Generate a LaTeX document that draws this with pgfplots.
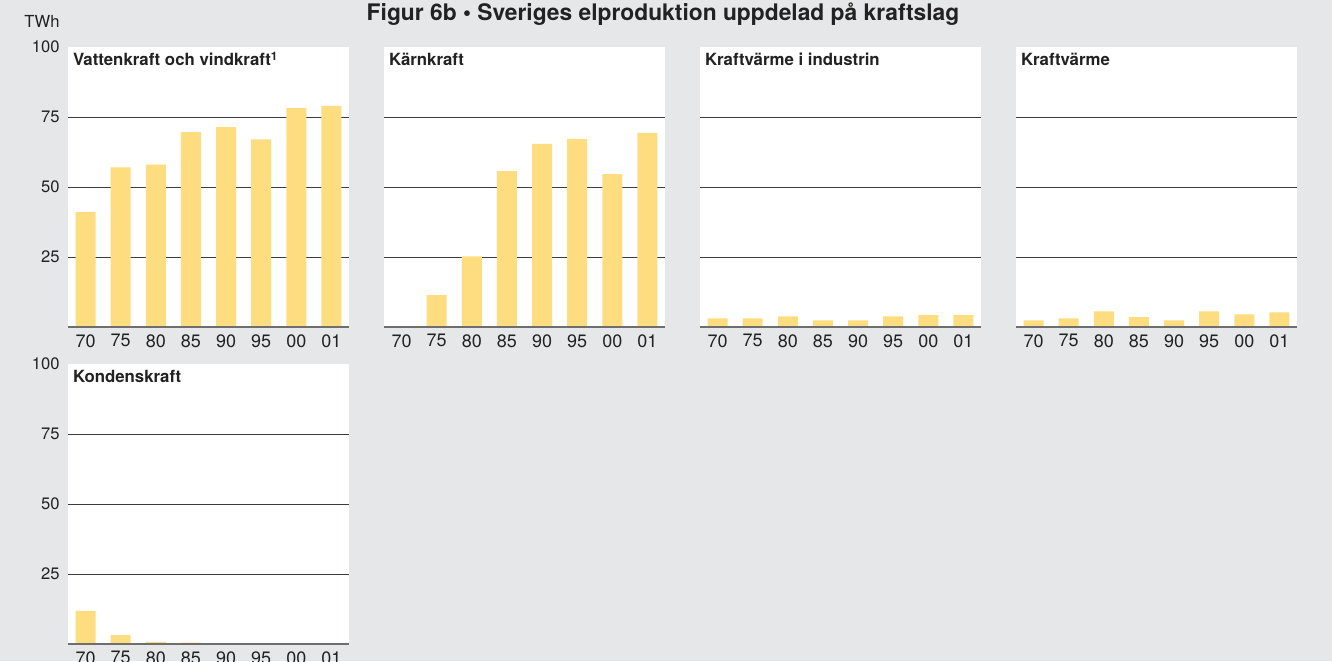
\documentclass[border=0pt]{standalone}
\usepackage{fontspec}
\setmainfont{TeX Gyre Heros}
\usepackage{pgfplots}
\pgfplotsset{compat=1.18}

\definecolor{bgcol}{HTML}{E6E7E9}
\definecolor{barcol}{HTML}{FEDC80}
\definecolor{gridcol}{HTML}{3C3C3C}
\definecolor{axcol}{HTML}{6E6E6E}
\definecolor{txtcol}{HTML}{222222}

% one panel = one axis, placed by its lower left corner (1px = 0.5pt)
\pgfplotsset{
  panel/.style={
    at={#1}, anchor=south west,
    scale only axis, width=140.5pt, height=140pt,
    xmin=-0.5, xmax=7.5, ymin=0, ymax=100,
    axis line style={draw=none},
    axis background/.style={fill=white},
    xtick={0,...,7}, xticklabels={70,75,80,85,90,95,00,01},
    ytick={25,50,75},
    ymajorgrids, grid style={gridcol, line width=0.5pt},
    major tick length=0pt,
    /pgf/number format/assume math mode=true,
    xticklabel style={inner sep=0pt, anchor=north, yshift=-3.5pt,
      text=txtcol, font=\fontsize{9}{10}\selectfont},
    yticklabel style={inner sep=0pt, anchor=east, xshift=-4pt,
      text=txtcol, font=\fontsize{8.3}{10}\selectfont},
    ybar, bar width=10pt, bar shift=0pt,
  },
  ylabs/.style={extra y ticks={100}, extra y tick style={grid=none}},
  nolabs/.style={yticklabels={,,}},
}
\newcommand{\ptitle}[1]{%
  \node[anchor=base west, inner sep=0pt, text=txtcol,
    font=\bfseries\fontsize{8.4}{10}\selectfont]
    at ([xshift=2.3pt, yshift=-9.35pt]rel axis cs:0,1) {#1};
  \draw[axcol, line width=0.75pt] (rel axis cs:0,0) -- (rel axis cs:1,0);}

\begin{document}
\begin{tikzpicture}
\useasboundingbox (0,0) rectangle (666pt,330.5pt);
\clip (0,0) rectangle (666pt,330.5pt);
\fill[bgcol] (0,0) rectangle (666pt,330.5pt);

\node[anchor=base, inner sep=0pt, text=txtcol,
  font=\bfseries\fontsize{11.4}{13}\selectfont] at (331.5pt,320.5pt)
  {Figur 6b • Sveriges elproduktion uppdelad på kraftslag};
\node[anchor=base east, inner sep=0pt, text=txtcol,
  font=\fontsize{8.3}{10}\selectfont] at (30pt,316.6pt) {TWh};

% Vattenkraft och vindkraft
\begin{axis}[panel={(34pt,167pt)}, ylabs]
  \addplot[fill=barcol, draw=none] coordinates {
    (0,41) (1,57) (2,58) (3,69.6) (4,71.4) (5,67) (6,78.2) (7,79)};
  \ptitle{Vattenkraft och vindkraft\textsuperscript{1}}
\end{axis}

% Kärnkraft
\begin{axis}[panel={(192pt,167pt)}, nolabs]
  \addplot[fill=barcol, draw=none] coordinates {
    (0,0) (1,11.4) (2,25.2) (3,55.7) (4,65.4) (5,67.1) (6,54.6) (7,69.3)};
  \ptitle{Kärnkraft}
\end{axis}

% Kraftvärme i industrin
\begin{axis}[panel={(350pt,167pt)}, nolabs]
  \addplot[fill=barcol, draw=none] coordinates {
    (0,3.1) (1,3.1) (2,3.8) (3,2.4) (4,2.4) (5,3.8) (6,4.2) (7,4.2)};
  \ptitle{Kraftvärme i industrin}
\end{axis}

% Kraftvärme
\begin{axis}[panel={(508pt,167pt)}, nolabs]
  \addplot[fill=barcol, draw=none] coordinates {
    (0,2.4) (1,3.1) (2,5.6) (3,3.5) (4,2.4) (5,5.6) (6,4.5) (7,5.2)};
  \ptitle{Kraftvärme}
\end{axis}

% Kondenskraft
\begin{axis}[panel={(34pt,8.5pt)}, ylabs]
  \addplot[fill=barcol, draw=none] coordinates {
    (0,11.8) (1,3.2) (2,0.8) (3,0.5) (4,0) (5,0) (6,0) (7,0)};
  \ptitle{Kondenskraft}
\end{axis}
\end{tikzpicture}
\end{document}
